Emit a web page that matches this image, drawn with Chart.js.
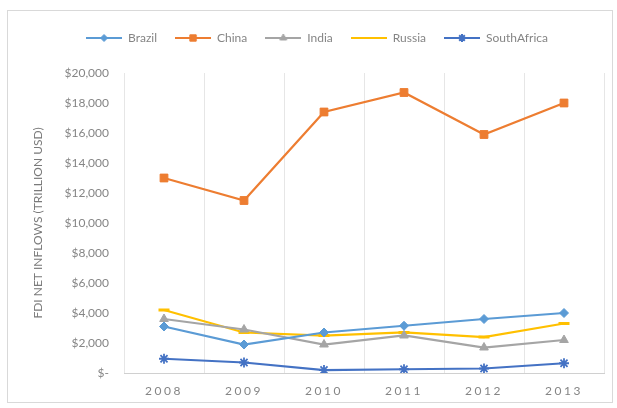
<!DOCTYPE html>
<html>
<head>
<meta charset="utf-8">
<script src="https://cdn.jsdelivr.net/npm/chart.js@4.4.1/dist/chart.umd.min.js"></script>
<style>
  html, body { margin: 0; padding: 0; background: #fff; }
  #wrap { position: relative; width: 617px; height: 408px; }
  #frame { position: absolute; left: 7px; top: 10px; width: 606px; height: 393px; border: 1px solid #d9d9d9; box-sizing: border-box; pointer-events: none; }
  canvas { display: block; }
</style>
</head>
<body>
<div id="wrap">
  <canvas id="chart" width="617" height="408"></canvas>
  <div id="frame"></div>
</div>
<script>
// --- data ---
const years = ['2008', '2009', '2010', '2011', '2012', '2013'];
const brazil = [3100, 1900, 2700, 3150, 3600, 4000];
const china = [13000, 11500, 17400, 18700, 15900, 18000];
const india = [3600, 2900, 1900, 2500, 1700, 2200];
const russia = [4200, 2700, 2500, 2700, 2400, 3300];
const southAfrica = [950, 700, 200, 250, 300, 650];
const yTicks = [0, 2000, 4000, 6000, 8000, 10000, 12000, 14000, 16000, 18000, 20000];

const FONT = 'Lato, "Open Sans", sans-serif';
const TEXT = '#858585';

const series = [
    { label: 'Brazil', data: brazil, color: '#5B9BD5', style: 'rectRot', r: 4.5 },
    { label: 'China', data: china, color: '#ED7D31', style: 'rect', r: 5.5 },
    { label: 'India', data: india, color: '#A5A5A5', style: 'triangle', r: 5 },
    { label: 'Russia', data: russia, color: '#FFC000', style: 'line', r: 5.5 },
    { label: 'SouthAfrica', data: southAfrica, color: '#4472C4', style: 'star', r: 5 }
];

const lineMarker = s => s.style === 'line' || s.style === 'star';

// legend swatch: short line with the marker in the middle, like the original
function swatch(s) {
    const c = document.createElement('canvas');
    c.width = 36; c.height = 12;
    const ctx = c.getContext('2d');
    ctx.strokeStyle = s.color;
    ctx.fillStyle = s.color;
    ctx.lineWidth = 2;
    ctx.beginPath(); ctx.moveTo(0, 6); ctx.lineTo(36, 6); ctx.stroke();
    ctx.lineWidth = lineMarker(s) ? 2 : 1;
    Chart.helpers.drawPoint(ctx, { pointStyle: s.style, radius: s.r - 1, borderWidth: ctx.lineWidth }, 18, 6);
    return c;
}

const datasets = series.map(s => ({
    label: s.label,
    data: s.data,
    borderColor: s.color,
    backgroundColor: s.color,
    borderWidth: 2.25,
    pointStyle: s.style,
    pointRadius: s.r,
    pointBorderWidth: s.style === 'line' ? 3 : (s.style === 'star' ? 1.8 : 1),
    pointBackgroundColor: s.color,
    pointBorderColor: s.color,
    tension: 0
}));

// spaced-out text like the original, extra room under the legend, legend nudged right
const tweaks = {
    id: 'tweaks',
    beforeInit(chart) {
        chart.ctx.letterSpacing = '1.2px';
        const legend = chart.legend;
        const fit = legend.fit;
        legend.fit = function () {
            fit.call(this);
            this.height += 19;
        };
    },
    afterLayout(chart) {
        chart.legend.left += 10;
        chart.legend.right += 10;
        const x = chart.scales.x;
        if (x._spaced) return;
        const draw = x.drawLabels;
        x.drawLabels = function (area) {
            this.ctx.save();
            this.ctx.letterSpacing = '2.5px';
            draw.call(this, area);
            this.ctx.restore();
        };
        x._spaced = true;
    }
};

new Chart(document.getElementById('chart'), {
    type: 'line',
    data: { labels: years, datasets },
    plugins: [tweaks],
    options: {
        responsive: false,
        animation: false,
        layout: { padding: { left: 10, right: 13, top: 14, bottom: 8 } },
        plugins: {
            tooltip: { enabled: false },
            legend: {
                position: 'top',
                labels: {
                    usePointStyle: true,
                    pointStyleWidth: 36,
                    boxHeight: 12,
                    padding: 18,
                    color: TEXT,
                    font: { family: FONT, size: 12 },
                    generateLabels: chart => series.map((s, i) => ({
                        text: s.label,
                        pointStyle: swatch(s),
                        fontColor: TEXT,
                        datasetIndex: i,
                        hidden: false,
                        lineWidth: 0,
                        strokeStyle: 'transparent',
                        fillStyle: 'transparent'
                    }))
                }
            }
        },
        scales: {
            x: {
                offset: true,
                grid: { offset: true, color: '#e6e6e6', drawTicks: false },
                border: { color: '#d0d0d0' },
                ticks: { color: TEXT, padding: 11, font: { family: FONT, size: 12 } },
                afterFit: s => { s.height = 27; }
            },
            y: {
                min: 0, max: 20000,
                afterBuildTicks: s => { s.ticks = yTicks.map(v => ({ value: v })); },
                grid: { display: false, drawTicks: false },
                border: { display: false },
                ticks: {
                    color: TEXT, padding: 15,
                    font: { family: FONT, size: 12 },
                    callback: v => v === 0 ? '$-' : '$' + v.toLocaleString('en-US')
                },
                title: {
                    display: true,
                    text: 'FDI NET INFLOWS (TRILLION USD)',
                    color: '#7a7a7a',
                    font: { family: FONT, size: 12 },
                    padding: { top: 21, bottom: 0 }
                },
                afterFit: s => { s.width = 114; }
            }
        }
    }
});
</script>
</body>
</html>
